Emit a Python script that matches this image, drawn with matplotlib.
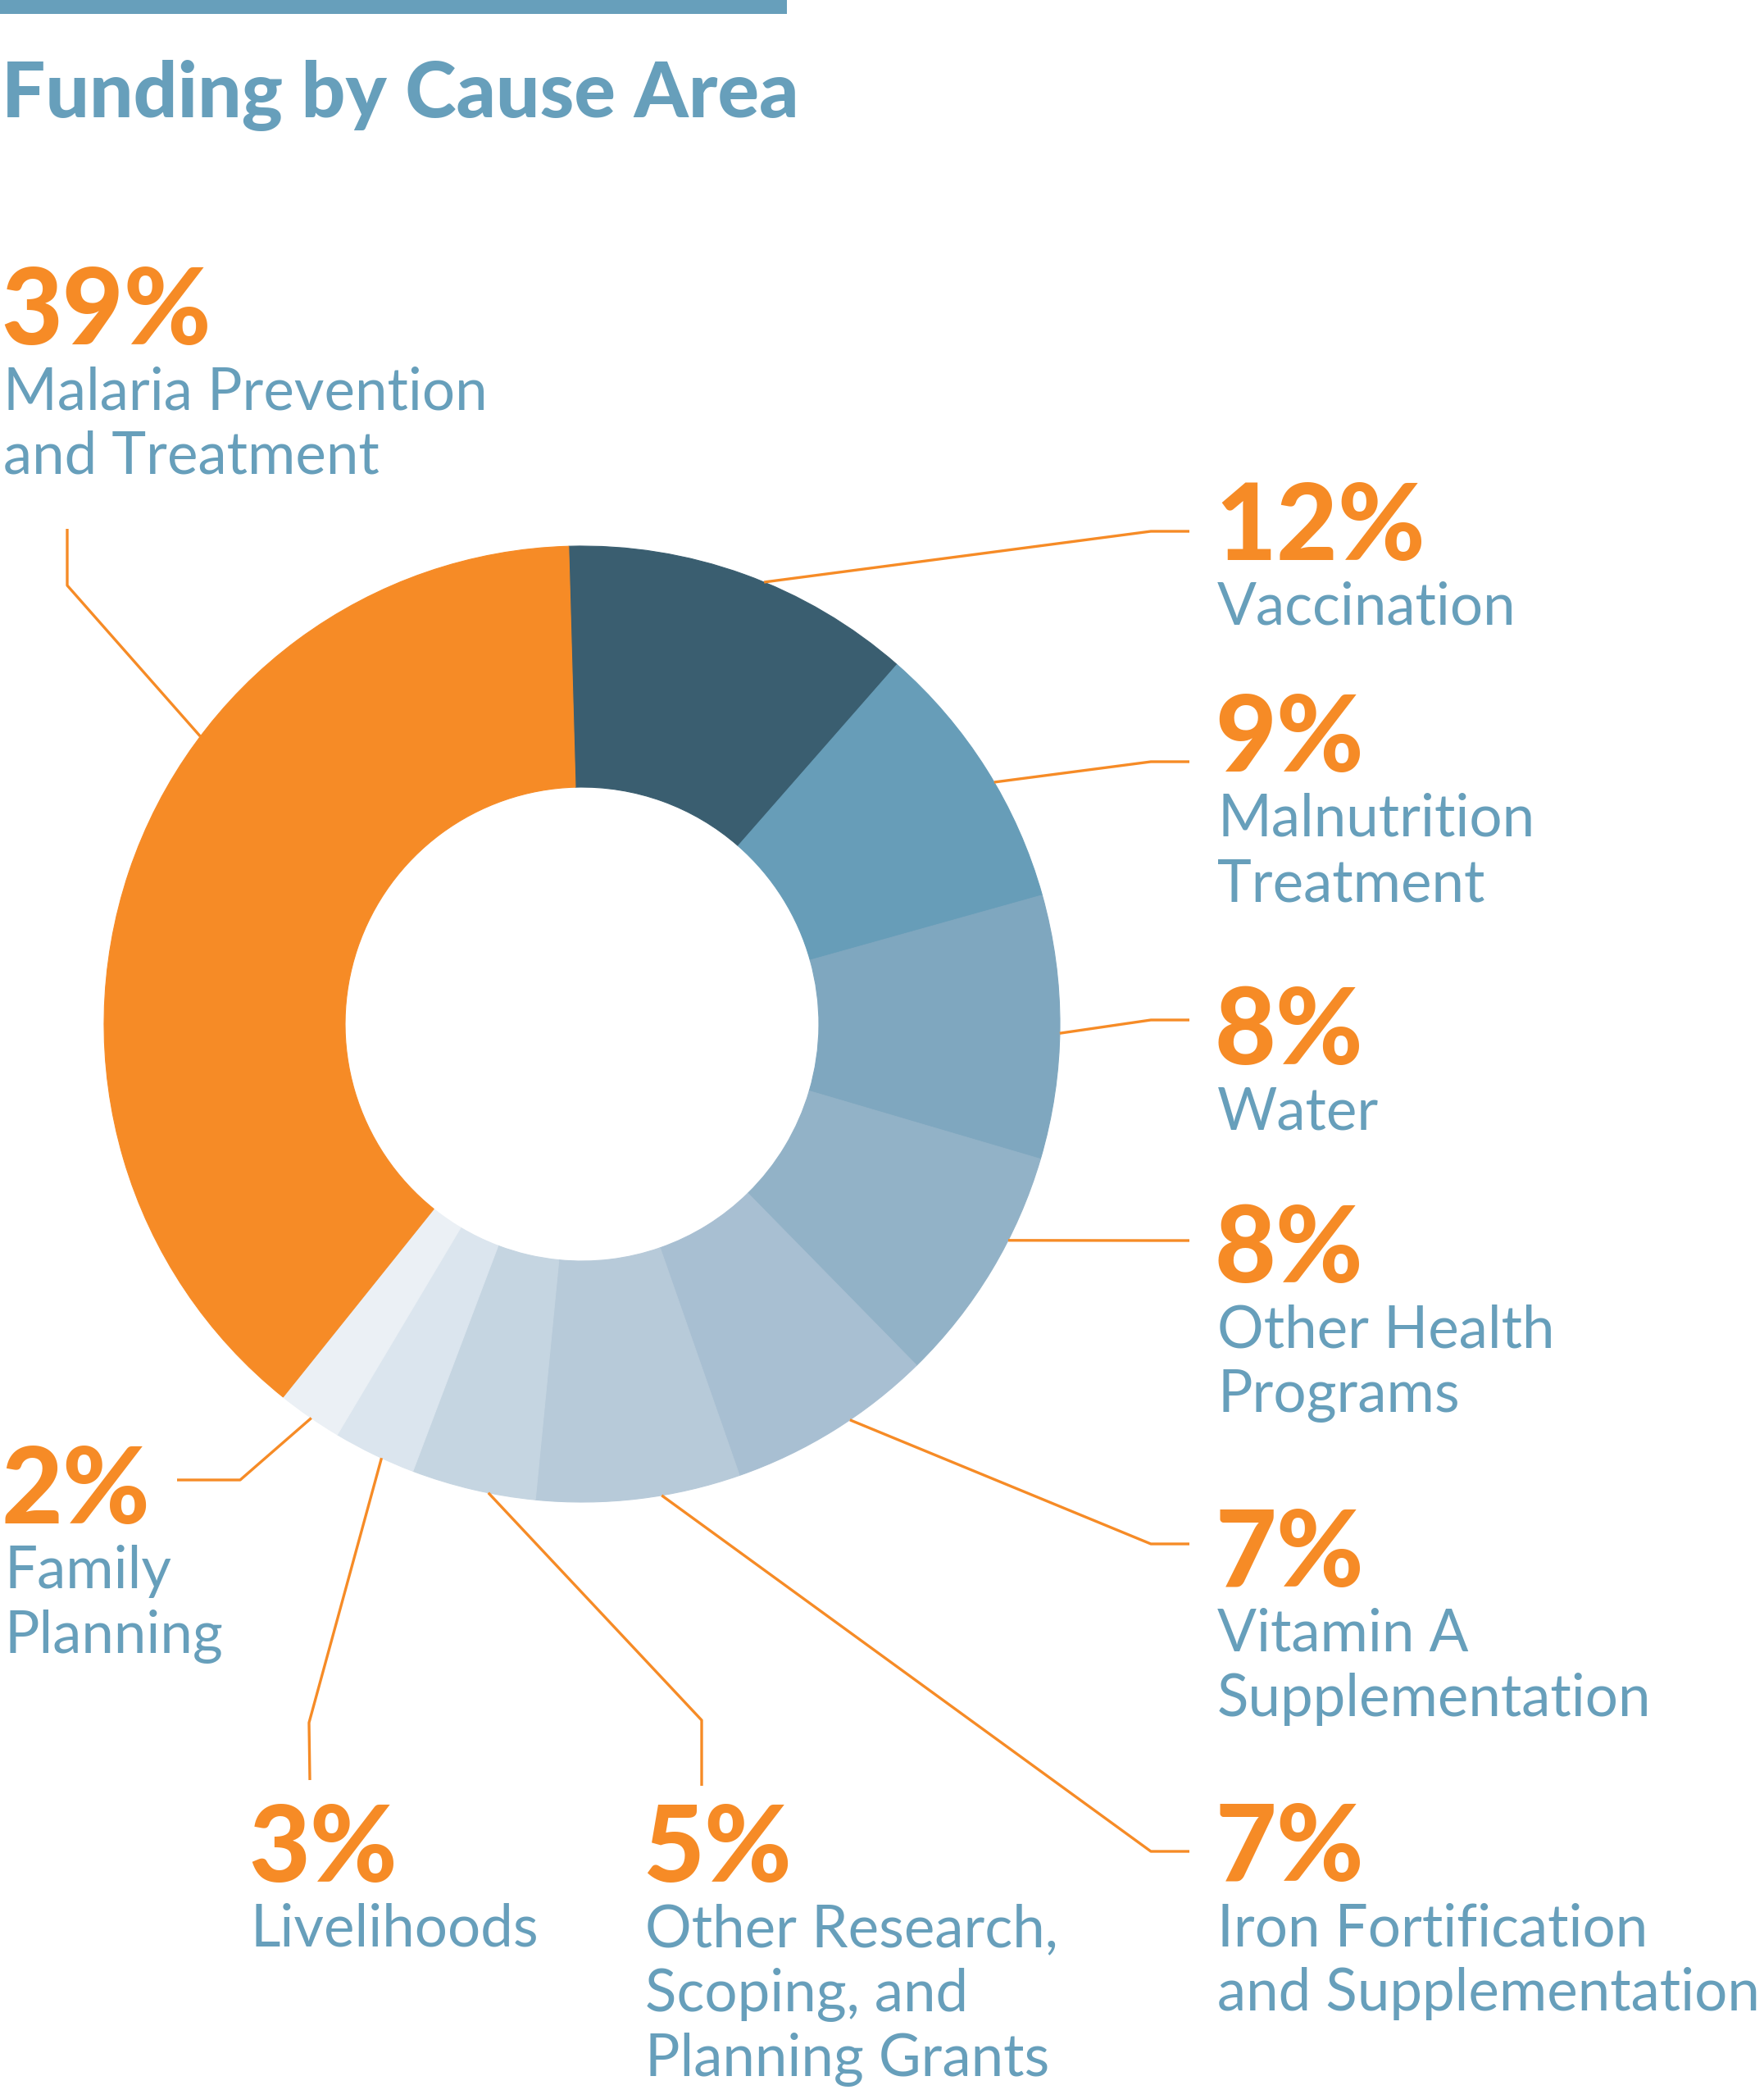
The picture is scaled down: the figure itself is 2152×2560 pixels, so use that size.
import matplotlib
matplotlib.use('Agg')
import matplotlib.pyplot as plt
from matplotlib.patches import Rectangle
import numpy as np

W, H = 2152, 2560

# data, clockwise from the top of the ring
causes = ['Vaccination', 'Malnutrition\nTreatment', 'Water', 'Other Health\nPrograms',
          'Vitamin A\nSupplementation', 'Iron Fortification\nand Supplementation',
          'Other Research,\nScoping, and\nPlanning Grants', 'Livelihoods',
          'Family\nPlanning', 'Malaria Prevention\nand Treatment']
pct_labels = ['12%', '9%', '8%', '8%', '7%', '7%', '5%', '3%', '2%', '39%']
# slice sizes as drawn in the ring
shares = [11.9, 9.2, 8.9, 8.1, 7.0, 6.9, 4.2, 2.8, 2.2, 38.8]
colors = ['#3a5e70', '#679db8', '#7fa7bf', '#92b2c7', '#a8bfd2',
          '#b7cad9', '#c5d5e1', '#dbe5ee', '#ebf0f5', '#f68b26']

# layout (image pixels, y measured from the top)
label_pos = [(1482, 683), (1482, 941), (1482, 1298), (1482, 1564), (1482, 1935),
             (1482, 2294), (784, 2295), (303, 2295), (2, 1858), (1, 420)]
anchor_deg = [22.4, 59.6, 91.1, 116.9, 145.9, 170.4, 191.3, 204.8, 214.5, 307.0]
elbows = [(1404, 648), (1404, 929), (1404, 1244), (1404, 1513), (1404, 1883),
          (1404, 2258), (856, 2098), (377, 2101), (293, 1805), (82, 714)]
ends = [(1451, 648), (1451, 929), (1451, 1244), (1451, 1513), (1451, 1883),
        (1451, 2258), (856, 2178), (378, 2171), (216, 1805), (82, 645)]

ORANGE = '#f68b26'
BLUE = '#679fbb'
cx, cy, R, r_in = 710, 1249, 583, 289
line_gap = 79

plt.rcParams['font.family'] = ['Lato', 'DejaVu Sans']

fig = plt.figure(figsize=(W / 100, H / 100), dpi=100)
ax = fig.add_axes([0, 0, 1, 1])

wedges, _ = ax.pie(shares, colors=colors, startangle=91.6, counterclock=False,
                   center=(cx, H - cy), radius=R,
                   wedgeprops=dict(width=R - r_in, linewidth=0))
for w in wedges:
    w.set_edgecolor(w.get_facecolor())
    w.set_linewidth(0.8)

ax.set_xlim(0, W)
ax.set_ylim(0, H)
ax.set_aspect('equal')
ax.axis('off')

# leader lines
for i in range(len(causes)):
    a = np.deg2rad(90 - anchor_deg[i])
    sx = cx + R * np.cos(a)
    sy = (H - cy) + R * np.sin(a)
    xs = [sx, elbows[i][0], ends[i][0]]
    ys = [sy, H - elbows[i][1], H - ends[i][1]]
    ax.plot(xs, ys, color=ORANGE, lw=2.4, solid_capstyle='butt', zorder=1)

# labels
for i, name in enumerate(causes):
    x, y = label_pos[i]
    ax.text(x, H - y, pct_labels[i], color=ORANGE, fontsize=93,
            fontweight='black', ha='left', va='baseline')
    for k, line in enumerate(name.split('\n')):
        ax.text(x + 3, H - (y + line_gap * (k + 1)), line, color=BLUE, fontsize=51,
                ha='left', va='baseline')

# title and top rule
ax.add_patch(Rectangle((0, H - 17), 960, 17, color=BLUE, lw=0))
ax.text(2, H - 143, 'Funding by Cause Area', color=BLUE, fontsize=68,
        fontweight='black', ha='left', va='baseline')

fig.savefig('out.png', dpi=100, facecolor='white')
